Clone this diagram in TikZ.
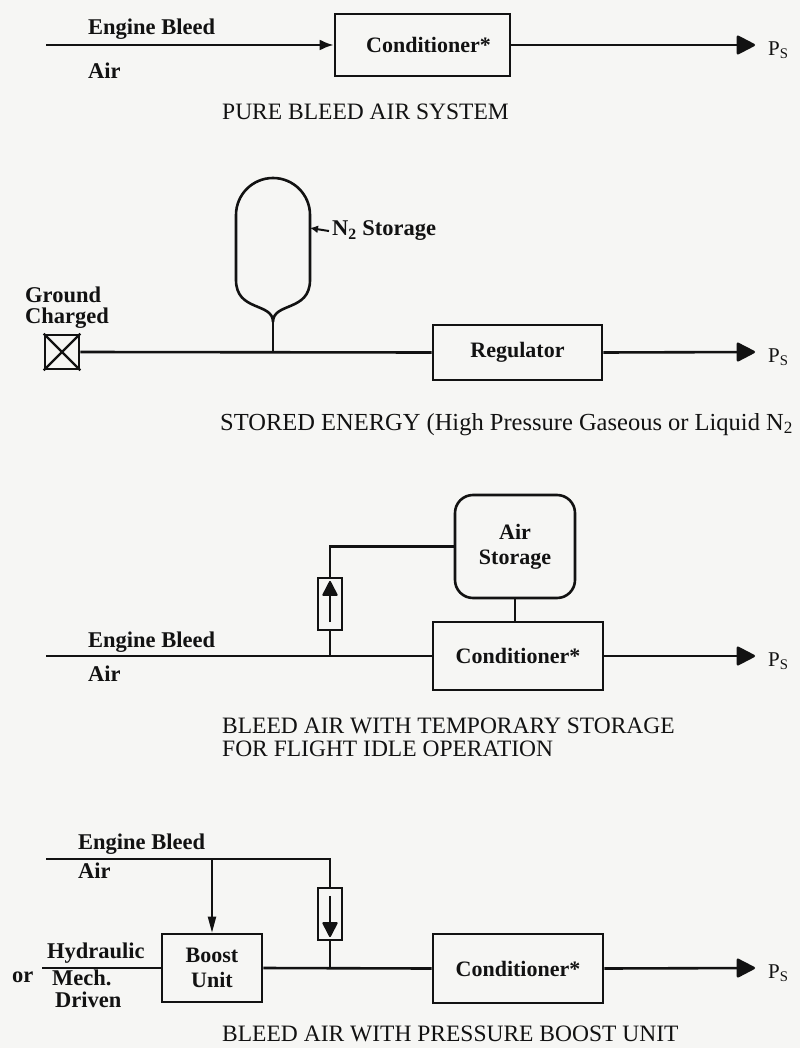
\documentclass[tikz,border=0pt]{standalone}
\usepackage{fontspec}
\setmainfont{Liberation Serif}
\usetikzlibrary{arrows.meta}
\definecolor{paper}{RGB}{246,246,244}
\definecolor{ink}{RGB}{18,18,18}
\begin{document}
\begin{tikzpicture}[x=1pt,y=-1pt,color=ink,
		lbl/.style={font=\bfseries\fontsize{22.5}{26}\selectfont,inner sep=0pt,anchor=base west},
		ttl/.style={font=\fontsize{23.5}{27}\selectfont,inner sep=0pt,anchor=base west},
		unit/.style={draw,line width=2.6pt,inner sep=0pt,align=center,font=\bfseries\fontsize{22}{25}\selectfont},
		valve/.style={draw,line width=2.2pt,minimum width=24pt,minimum height=52pt,inner sep=0pt},
		pipe/.style={line width=2.6pt},
		outlet/.style={line width=2.6pt,-{Triangle[length=20pt,width=20pt,round]}},
		ps/.style={font=\fontsize{21}{24}\selectfont,inner sep=0pt,anchor=west}]
	\fill[paper] (0,0) rectangle (800,1048);
	\useasboundingbox (0,0) rectangle (800,1048);

	\node[unit,minimum width=175pt,minimum height=62pt] (cond1) at (422.5,45) {\hspace*{12pt}Conditioner*};
	\coordinate (eb1) at (46,45);
	\coordinate (out1) at (755,45);
	\draw[pipe,-{Latex[length=14pt,width=11pt]}] (eb1) -- (cond1.west);
	\draw[outlet] (cond1.east) -- (out1);
	\node[lbl] (eblbl1) at (88,35) {Engine Bleed};
	\node[lbl] (airlbl1) at (88,79) {Air};
	\node[ps] (ps1) at (768,50) {P\textsubscript{S}};
	\node[ttl] (ttl1) at (222,120) {PURE BLEED AIR SYSTEM};

	\node[draw,line width=2.6pt,minimum size=34pt,inner sep=0pt] (gc) at (62,352) {};
	\draw[line width=2.4pt] (gc.north west) -- (gc.south east) (gc.north east) -- (gc.south west);
	\node[lbl] (gclbl) at (25,302) {Ground};
	\node[lbl] (chlbl) at (25,323) {Charged};
	\coordinate (neck) at (273,322);
	\coordinate (tee2) at (273,352);
	\coordinate (tankside) at (310,228);
	\draw[pipe] (neck) .. controls (273,302) and (236,312) .. (236,280) -- (236,215)
		arc[start angle=180,end angle=360,radius=37] -- (310,280)
		.. controls (310,312) and (273,302) .. (neck);
	\draw[pipe] (neck) -- (tee2);
	\node[lbl] (n2lbl) at (332,236) {N\textsubscript{2} Storage};
	\draw[line width=2pt,-{Latex[length=8pt,width=8pt]}] (n2lbl.west) ++(-3pt,0) -- (tankside);
	\node[unit,minimum width=169pt,minimum height=55pt] (reg) at (517.5,352.5) {Regulator};
	\coordinate (out2) at (755,352);
	\draw[pipe] (gc.east) -- (reg.west);
	\draw[outlet] (reg.east) -- (out2);
	\node[ps] (ps2) at (768,357) {P\textsubscript{S}};
	\node[ttl,font=\fontsize{24.5}{28}\selectfont] (ttl2) at (220,430) {STORED ENERGY (High Pressure Gaseous or Liquid N\textsubscript{2}};

	\node[unit,rounded corners=18pt,minimum width=120pt,minimum height=103pt] (airst) at (515,546.5) {Air\\Storage};
	\node[unit,minimum width=170pt,minimum height=68pt] (cond3) at (518,656) {Conditioner*};
	\node[valve] (cv3) at (330,604) {};
	\coordinate (eb3) at (46,656);
	\coordinate (tee3) at (330,656);
	\coordinate (out3) at (755,656);
	\draw[pipe] (eb3) -- (cond3.west);
	\draw[pipe] (tee3) -- (cv3.south);
	\draw[pipe] (cv3.north) |- (airst.west);
	\draw[pipe] (airst.south) -- (airst.south |- cond3.north);
	\draw[line width=1.8pt,-{Triangle[length=16pt,width=16pt,round]}] ([yshift=9pt]cv3.south) -- ([yshift=-4pt]cv3.north);
	\draw[outlet] (cond3.east) -- (out3);
	\node[lbl] (eblbl3) at (88,647) {Engine Bleed};
	\node[lbl] (airlbl3) at (88,681) {Air};
	\node[ps] (ps3) at (768,661) {P\textsubscript{S}};
	\node[ttl] (ttl3a) at (222,733) {BLEED AIR WITH TEMPORARY STORAGE};
	\node[ttl] (ttl3b) at (222,756) {FOR FLIGHT IDLE OPERATION};

	\node[unit,minimum width=100pt,minimum height=68pt] (boost) at (212,968) {Boost\\Unit};
	\node[unit,minimum width=170pt,minimum height=69pt] (cond4) at (518,968.5) {Conditioner*};
	\node[valve] (cv4) at (330,914) {};
	\coordinate (eb4) at (46,859);
	\coordinate (tap4) at (330,859);
	\coordinate (hyd4) at (42,968);
	\coordinate (out4) at (755,968);
	\draw[pipe] (eb4) -- (tap4) -- (cv4.north);
	\draw[line width=2pt,-{Triangle[length=16pt,width=8pt]}] (boost.north |- eb4) -- (boost.north);
	\draw[pipe] (hyd4) -- (boost.west);
	\draw[pipe] (boost.east) -- (cond4.west);
	\draw[pipe] (cv4.south) -- (cv4.south |- boost.east);
	\draw[line width=1.8pt,-{Triangle[length=16pt,width=16pt,round]}] ([yshift=-9pt]cv4.north) -- ([yshift=4pt]cv4.south);
	\draw[outlet] (cond4.east) -- (out4);
	\node[lbl] (eblbl4) at (78,849) {Engine Bleed};
	\node[lbl] (airlbl4) at (78,878) {Air};
	\node[lbl] (hydlbl) at (47,958) {Hydraulic};
	\node[lbl] (orlbl) at (12,982) {or};
	\node[lbl] (mechlbl) at (52,985) {Mech.};
	\node[lbl] (drvlbl) at (55,1007) {Driven};
	\node[ps] (ps4) at (768,973) {P\textsubscript{S}};
	\node[ttl] (ttl4) at (222,1041) {BLEED AIR WITH PRESSURE BOOST UNIT};
\end{tikzpicture}
\end{document}
